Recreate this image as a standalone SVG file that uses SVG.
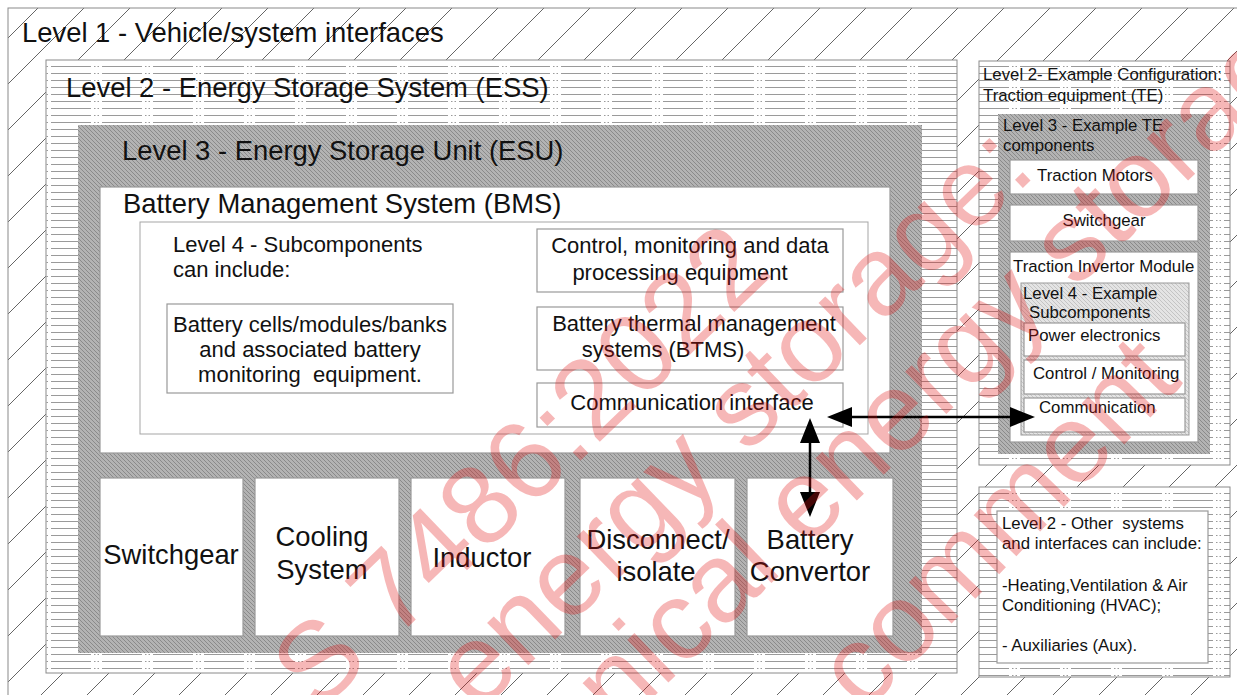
<svg xmlns="http://www.w3.org/2000/svg" width="1237" height="695" viewBox="0 0 1237 695" xml:space="preserve">
<style>
text { font-family: "Liberation Sans", Arial, sans-serif; fill: #111; white-space: pre; }
.t27 { font-size: 27.4px; }
.t22 { font-size: 22px; }
.t16 { font-size: 16.8px; }
.mid { text-anchor: middle; }
.box { fill: #fff; stroke: #999; stroke-width: 1.2; }
.thin { fill: none; stroke: #a5a5a5; stroke-width: 1; }
.frame { stroke: #8a8a8a; stroke-width: 1; }
.arrow { stroke: #000; stroke-width: 2.5; fill: none; }
.head { fill: #000; }
.wm { font-family: "Liberation Sans", Arial, sans-serif; font-size: 112px; fill: #e01010; fill-opacity: 0.3; }
</style>
<defs>
  <pattern id="diag" patternUnits="userSpaceOnUse" width="46" height="46">
    <rect width="46" height="46" fill="#fff"/>
    <path d="M-4,50 L50,-4 M-4,4 L4,-4 M42,50 L50,42" stroke="#555" stroke-width="0.9"/>
  </pattern>
  <pattern id="hlines" patternUnits="userSpaceOnUse" width="51" height="7">
    <rect width="51" height="7" fill="#fff"/>
    <path d="M0,3.5 H40 M43,3.5 H44.5 M46.5,3.5 H48" stroke="#9a9a9a" stroke-width="1"/>
  </pattern>
  <pattern id="gray" patternUnits="userSpaceOnUse" width="4" height="4">
    <rect width="4" height="4" fill="#b3b3b3"/>
    <path d="M0,0 L4,4 M-1,3 L1,5 M3,-1 L5,1" stroke="#8a8a8a" stroke-width="1"/>
  </pattern>
  <pattern id="light" patternUnits="userSpaceOnUse" width="4" height="4">
    <rect width="4" height="4" fill="#e4e4e4"/>
    <path d="M0,0 L4,4 M-1,3 L1,5 M3,-1 L5,1" stroke="#c4c4c4" stroke-width="1"/>
  </pattern>
</defs>

<g id="level1">
  <rect x="8" y="8" width="1240" height="700" fill="url(#diag)" class="frame"/>
  <text x="22" y="42" class="t27">Level 1 - Vehicle/system interfaces</text>
</g>

<g id="ess">
  <rect x="46" y="60" width="911" height="613" fill="url(#hlines)" class="frame"/>
  <text x="66" y="97" class="t27">Level 2 - Energy Storage System (ESS)</text>
</g>

<g id="esu">
  <rect x="78" y="125" width="844" height="528" fill="url(#gray)"/>
  <text x="122" y="160" class="t27">Level 3 - Energy Storage Unit (ESU)</text>
</g>

<g id="bms">
  <rect x="100" y="187" width="790" height="266" class="box"/>
  <text x="123" y="213" class="t27">Battery Management System (BMS)</text>
</g>

<g id="level4-subcomponents">
  <rect x="140" y="222" width="728" height="212" class="thin"/>
  <text x="173" y="252" class="t22">Level 4 - Subcomponents</text>
  <text x="173" y="277" class="t22">can include:</text>
</g>

<g id="battery-cells">
  <rect x="167" y="304" width="286" height="89" class="box"/>
  <text x="310" y="332" class="t22 mid">Battery cells/modules/banks</text>
  <text x="310" y="357" class="t22 mid">and associated battery</text>
  <text x="310" y="382" class="t22 mid">monitoring  equipment.</text>
</g>

<g id="control-equipment">
  <rect x="537" y="229" width="306" height="63" class="box"/>
  <text x="690" y="253" class="t22 mid">Control, monitoring and data</text>
  <text x="680" y="280" class="t22 mid">processing equipment</text>
</g>

<g id="btms">
  <rect x="537" y="307" width="306" height="63" class="box"/>
  <text x="694" y="331" class="t22 mid">Battery thermal management</text>
  <text x="663" y="357" class="t22 mid">systems (BTMS)</text>
</g>

<g id="communication-interface">
  <rect x="537" y="383" width="306" height="44" class="box"/>
  <text x="692" y="410" class="t22 mid">Communication interface</text>
</g>

<g id="switchgear">
  <rect x="100" y="478" width="143" height="158" class="box"/>
  <text x="171" y="564" class="t27 mid">Switchgear</text>
</g>

<g id="cooling-system">
  <rect x="255" y="478" width="144" height="158" class="box"/>
  <text x="322" y="546" class="t27 mid">Cooling</text>
  <text x="322" y="579" class="t27 mid">System</text>
</g>

<g id="inductor">
  <rect x="411" y="478" width="154" height="158" class="box"/>
  <text x="482" y="567" class="t27 mid">Inductor</text>
</g>

<g id="disconnect">
  <rect x="580" y="478" width="155" height="158" class="box"/>
  <text x="658" y="549" class="t27 mid">Disconnect/</text>
  <text x="656" y="581" class="t27 mid">isolate</text>
</g>

<g id="battery-convertor">
  <rect x="747" y="478" width="146" height="158" class="box"/>
  <text x="810" y="549" class="t27 mid">Battery</text>
  <text x="810" y="581" class="t27 mid">Convertor</text>
</g>

<g id="te-level2">
  <rect x="979" y="61" width="251" height="404" fill="url(#hlines)" class="frame"/>
  <text x="983" y="80" class="t16">Level 2- Example Configuration:</text>
  <text x="983" y="101" class="t16">Traction equipment (TE)</text>
</g>

<g id="te-level3">
  <rect x="998" y="114" width="212" height="340" fill="url(#gray)"/>
  <text x="1003" y="131" class="t16">Level 3 - Example TE</text>
  <text x="1003" y="151" class="t16">components</text>
</g>

<g id="traction-motors">
  <rect x="1010" y="160" width="188" height="34" class="box"/>
  <text x="1095" y="181" class="t16 mid">Traction Motors</text>
</g>

<g id="te-switchgear">
  <rect x="1010" y="205" width="188" height="36" class="box"/>
  <text x="1104" y="226" class="t16 mid">Switchgear</text>
</g>

<g id="traction-invertor-module">
  <rect x="1010" y="252" width="188" height="190" class="box"/>
  <text x="1013" y="272" class="t16">Traction Invertor Module</text>
</g>

<g id="te-level4">
  <rect x="1021" y="283" width="168" height="152" fill="url(#light)" stroke="#999" stroke-width="1"/>
  <text x="1023" y="299" class="t16">Level 4 - Example</text>
  <text x="1029" y="318" class="t16">Subcomponents</text>
</g>

<g id="power-electronics">
  <rect x="1024" y="323" width="161" height="33" class="box"/>
  <text x="1028" y="341" class="t16">Power electronics</text>
</g>

<g id="control-monitoring">
  <rect x="1024" y="360" width="161" height="34" class="box"/>
  <text x="1033" y="379" class="t16">Control / Monitoring</text>
</g>

<g id="communication">
  <rect x="1024" y="398" width="161" height="34" class="box"/>
  <text x="1039" y="413" class="t16">Communication</text>
</g>

<g id="other-systems">
  <rect x="979" y="487" width="251" height="190" fill="url(#hlines)" class="frame"/>
  <rect x="997" y="511" width="211" height="152" class="box"/>
  <text x="1002" y="529" class="t16">Level 2 - Other  systems</text>
  <text x="1002" y="549" class="t16">and interfaces can include:</text>
  <text x="1002" y="591" class="t16">-Heating,Ventilation &amp; Air</text>
  <text x="1002" y="611" class="t16">Conditioning (HVAC);</text>
  <text x="1002" y="651" class="t16">- Auxiliaries (Aux).</text>
</g>

<g id="connectors">
  <line x1="810" y1="440" x2="810" y2="495" class="arrow"/>
  <polygon points="810,418 800,443 820,443" class="head"/>
  <polygon points="810,517 800,492 820,492" class="head"/>
  <line x1="849" y1="417" x2="1013" y2="417" class="arrow"/>
  <polygon points="827,417 852,407 852,427" class="head"/>
  <polygon points="1035,417 1010,407 1010,427" class="head"/>
</g>

<g id="watermark">
  <text class="wm" transform="translate(318,714) rotate(-44)">S 7486:2022</text>
  <text class="wm" transform="translate(478,714) rotate(-44)">energy storage:</text>
  <text class="wm" transform="translate(466,878) rotate(-44)">technical energy storage</text>
  <text class="wm" transform="translate(864,714) rotate(-46)">comment</text>
</g>
</svg>
